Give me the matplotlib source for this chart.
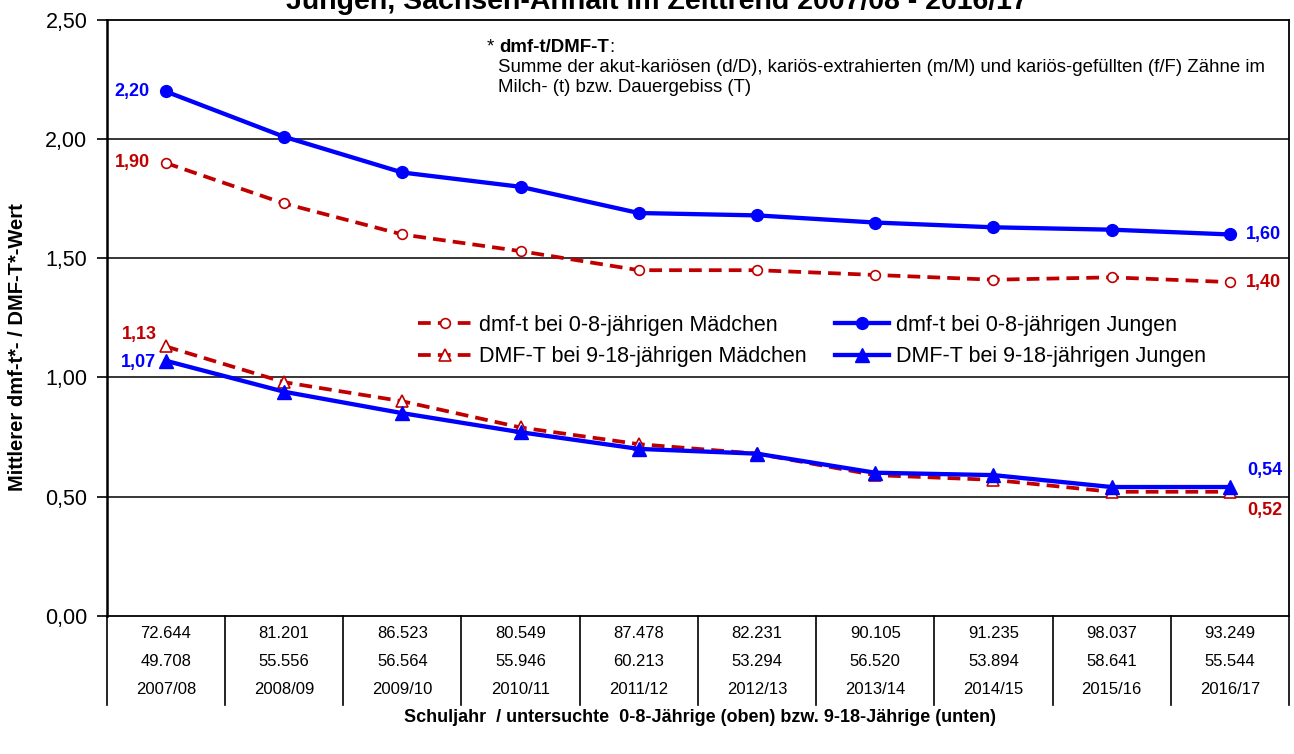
import matplotlib
matplotlib.use("Agg")
import matplotlib.pyplot as plt
from matplotlib.lines import Line2D
from matplotlib.transforms import blended_transform_factory

plt.rcParams['font.family'] = ['Liberation Sans', 'DejaVu Sans']

# School years and number of examined children per year
years = ["2007/08", "2008/09", "2009/10", "2010/11", "2011/12",
         "2012/13", "2013/14", "2014/15", "2015/16", "2016/17"]
n_0_8 = ["72.644", "81.201", "86.523", "80.549", "87.478",
         "82.231", "90.105", "91.235", "98.037", "93.249"]
n_9_18 = ["49.708", "55.556", "56.564", "55.946", "60.213",
          "53.294", "56.520", "53.894", "58.641", "55.544"]

# Mean dmf-t (deciduous teeth, age 0-8) and DMF-T (permanent teeth, age 9-18)
dmft_girls = [1.90, 1.73, 1.60, 1.53, 1.45, 1.45, 1.43, 1.41, 1.42, 1.40]
dmft_boys = [2.20, 2.01, 1.86, 1.80, 1.69, 1.68, 1.65, 1.63, 1.62, 1.60]
DMFT_girls = [1.13, 0.98, 0.90, 0.79, 0.72, 0.68, 0.59, 0.57, 0.52, 0.52]
DMFT_boys = [1.07, 0.94, 0.85, 0.77, 0.70, 0.68, 0.60, 0.59, 0.54, 0.54]

RED = "#C00000"
BLUE = "#0000FF"

W, H = 1294, 754
fig = plt.figure(figsize=(W / 100, H / 100), dpi=100)
ax = fig.add_axes([106.7 / W, 1 - 615.7 / H, (1289 - 106.7) / W, (615.7 - 20) / H])

x = list(range(len(years)))
dash = (0, (3.4, 1.9))

ax.plot(x, dmft_girls, color=RED, lw=2.7, ls=dash, marker="o", ms=7,
        mfc="white", mec=RED, mew=1.2, label="dmf-t bei 0-8-jährigen Mädchen", zorder=4)
ax.plot(x, DMFT_girls, color=RED, lw=2.7, ls=dash, marker="^", ms=8,
        mfc="white", mec=RED, mew=1.2, label="DMF-T bei 9-18-jährigen Mädchen", zorder=4)
ax.plot(x, dmft_boys, color=BLUE, lw=3.1, ls="-", marker="o", ms=8.5,
        mfc=BLUE, mec=BLUE, label="dmf-t bei 0-8-jährigen Jungen", zorder=5)
ax.plot(x, DMFT_boys, color=BLUE, lw=3.1, ls="-", marker="^", ms=10,
        mfc=BLUE, mec=BLUE, label="DMF-T bei 9-18-jährigen Jungen", zorder=5)

ax.set_xlim(-0.5, len(years) - 0.5)
ax.set_ylim(0, 2.5)
yt = [0, 0.5, 1.0, 1.5, 2.0, 2.5]
ax.set_yticks(yt)
ax.set_yticklabels([f"{v:.2f}".replace(".", ",") for v in yt], fontsize=15.5)
ax.tick_params(axis="y", direction="out", length=7, width=1.2, pad=7)
ax.set_xticks([])
for v in yt[1:-1]:
    ax.axhline(v, color="black", lw=1.1, zorder=1)
for side in ["top", "right"]:
    ax.spines[side].set_linewidth(1.3)
ax.spines["left"].set_linewidth(1.8)
ax.spines["bottom"].set_linewidth(1.3)

# Value labels at the first and last school year
fmt = lambda v: f"{v:.2f}".replace(".", ",")
lbl = dict(fontsize=13, fontweight="bold")
ax.annotate(fmt(dmft_boys[0]), (0, dmft_boys[0]), xytext=(-16, 0), textcoords="offset pixels",
            ha="right", va="center", color=BLUE, **lbl)
ax.annotate(fmt(dmft_girls[0]), (0, dmft_girls[0]), xytext=(-16, 0), textcoords="offset pixels",
            ha="right", va="center", color=RED, **lbl)
ax.annotate(fmt(DMFT_girls[0]), (0, DMFT_girls[0]), xytext=(-26, 12), textcoords="offset pixels",
            ha="center", va="center", color=RED, **lbl)
ax.annotate(fmt(DMFT_boys[0]), (0, DMFT_boys[0]), xytext=(-10, -2), textcoords="offset pixels",
            ha="right", va="center", color=BLUE, **lbl)
ax.annotate(fmt(dmft_boys[-1]), (9, dmft_boys[-1]), xytext=(16, 0), textcoords="offset pixels",
            ha="left", va="center", color=BLUE, **lbl)
ax.annotate(fmt(dmft_girls[-1]), (9, dmft_girls[-1]), xytext=(16, 0), textcoords="offset pixels",
            ha="left", va="center", color=RED, **lbl)
ax.annotate(fmt(DMFT_boys[-1]), (9, DMFT_boys[-1]), xytext=(17, 17), textcoords="offset pixels",
            ha="left", va="center", color=BLUE, **lbl)
ax.annotate(fmt(DMFT_girls[-1]), (9, DMFT_girls[-1]), xytext=(17, -19), textcoords="offset pixels",
            ha="left", va="center", color=RED, **lbl)

ax.legend(loc="center", bbox_to_anchor=(812 / W, 1 - 341 / H), bbox_transform=fig.transFigure,
          ncol=2, frameon=False, fontsize=15.5, handlelength=2.5, columnspacing=1.3,
          labelspacing=0.48, handletextpad=0.35)

# Table of examined children below the axis
tr = blended_transform_factory(ax.transData, fig.transFigure)
for i in range(len(years)):
    ax.text(i, 1 - 634 / H, n_0_8[i], transform=tr, ha="center", va="center", fontsize=12)
    ax.text(i, 1 - 662 / H, n_9_18[i], transform=tr, ha="center", va="center", fontsize=12)
    ax.text(i, 1 - 690 / H, years[i], transform=tr, ha="center", va="center", fontsize=12)
for b in range(len(years) + 1):
    fig.add_artist(Line2D([b - 0.5, b - 0.5], [1 - 615.7 / H, 1 - 705 / H], transform=tr,
                          color="black", lw=1.2))

fig.text(700 / W, 1 - 717 / H,
         "Schuljahr  / untersuchte  0-8-Jährige (oben) bzw. 9-18-Jährige (unten)",
         ha="center", va="center", fontsize=13, fontweight="bold")
fig.text(18 / W, 1 - 347 / H, "Mittlerer dmf-t*- / DMF-T*-Wert", rotation=90,
         ha="center", va="center", fontsize=14.5, fontweight="bold")
fig.text(657 / W, 1 - 9 / H, "Jungen, Sachsen-Anhalt im Zeittrend 2007/08 - 2016/17",
         ha="center", va="baseline", fontsize=20.5, fontweight="bold")

# Footnote explaining the index
fig.canvas.draw()
r = fig.canvas.get_renderer()
fs = 13.4
x0, y0 = 487 / W, 1 - 48 / H
t1 = fig.text(x0, y0, "* ", fontsize=fs, va="center")
w1 = t1.get_window_extent(r).width / W
t2 = fig.text(x0 + w1, y0, "dmf-t/DMF-T", fontsize=fs, fontweight="bold", va="center")
w2 = t2.get_window_extent(r).width / W
fig.text(x0 + w1 + w2, y0, ":", fontsize=fs, va="center")
fig.text(498 / W, 1 - 68 / H,
         "Summe der akut-kariösen (d/D), kariös-extrahierten (m/M) und kariös-gefüllten (f/F) Zähne im",
         fontsize=fs, va="center")
fig.text(498 / W, 1 - 88 / H, "Milch- (t) bzw. Dauergebiss (T)", fontsize=fs, va="center")

fig.savefig("out.png", dpi=100)
